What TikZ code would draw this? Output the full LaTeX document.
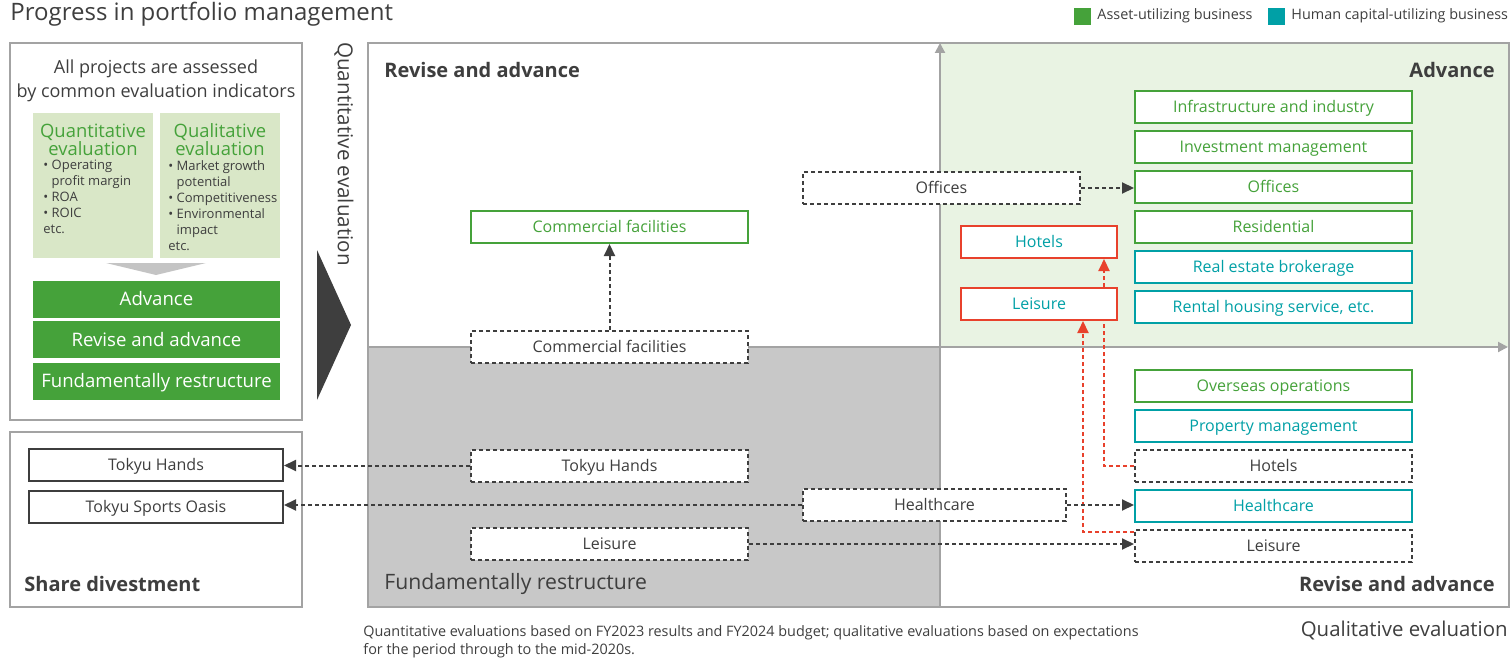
\documentclass[tikz,border=0pt]{standalone}
\usepackage{fontspec}
\setmainfont{Open Sans}
\usetikzlibrary{arrows.meta}
\definecolor{assetgreen}{HTML}{45A23A}
\definecolor{humanteal}{HTML}{00A0A6}
\definecolor{shiftred}{HTML}{E8412C}
\definecolor{inkgray}{HTML}{3E3E3E}
\definecolor{axisgray}{HTML}{A3A3A3}
\definecolor{lowgray}{HTML}{C8C8C8}
\definecolor{highgreen}{HTML}{E9F3E3}
\definecolor{indgreen}{HTML}{D9E7C7}
\definecolor{chevgray}{HTML}{C4C4C4}
\newcommand{\fsz}[2]{\fontsize{#1}{#2}\selectfont}
\tikzset{
  biz/.style={draw, line width=1pt, fill=white, minimum width=138.5pt,
    minimum height=16pt, inner sep=0pt, text height=7pt, text depth=1.3pt,
    font=\fsz{8}{9}},
  asset/.style={biz, draw=assetgreen, text=assetgreen},
  human/.style={biz, draw=humanteal, text=humanteal},
  moved/.style={biz, draw=inkgray, dash pattern=on 2pt off 1.5pt, text=inkgray},
  flagged/.style={biz, draw=shiftred, text=humanteal, minimum width=78pt},
  sold/.style={biz, draw=inkgray, text=inkgray, minimum width=127pt},
  flow/.style={draw=inkgray, line width=1pt, dash pattern=on 2pt off 1.5pt,
    -{Triangle[length=6pt,width=5.5pt]}},
  redflow/.style={flow, draw=shiftred},
  verdict/.style={fill=assetgreen, text=white, minimum width=123.5pt,
    minimum height=18.5pt, inner sep=0pt, text height=8pt, text depth=1.4pt,
    font=\fsz{9.3}{10}},
  quad/.style={font=\fsz{10}{12}\bfseries, text=inkgray},
}

\begin{document}
\begin{tikzpicture}[x=0.5pt,y=-0.5pt]
  \useasboundingbox (0,0) rectangle (1510,658);
  % heading and legend
  \node[anchor=west, inner sep=0pt, text=inkgray, font=\fsz{12}{14}] (title) at (10,14) {Progress in portfolio management};
  \fill[assetgreen] (1074,8) rectangle (1091,25);
  \node[anchor=west, inner sep=0pt, text=inkgray, font=\fsz{7.2}{9}] (keyasset) at (1097,16) {Asset-utilizing business};
  \fill[humanteal] (1268,8) rectangle (1285,25);
  \node[anchor=west, inner sep=0pt, text=inkgray, font=\fsz{7.2}{9}] (keyhuman) at (1291,16) {Human capital-utilizing business};

  % evaluation panel
  \draw[axisgray, line width=0.6pt] (10,43) rectangle (302,420);
  \node[align=center, text=inkgray, font=\fsz{9}{12}] (common) at (156,81) {All projects are assessed\\by common evaluation indicators};
  \fill[indgreen] (33,113) rectangle (153,258);
  \fill[indgreen] (160,113) rectangle (280,258);
  \node[align=center, inner sep=0pt, text=assetgreen, font=\fsz{9.2}{9}] (quanthead) at (93,140) {Quantitative\\evaluation};
  \node[align=center, inner sep=0pt, text=assetgreen, font=\fsz{9.2}{9}] (qualhead) at (220,140) {Qualitative\\evaluation};
  \node[anchor=north west, align=left, inner sep=0pt, text=inkgray, font=\fsz{6.5}{8}] (quantlist) at (43,160)
    {\textbullet\ Operating\\\phantom{\textbullet\ }profit margin\\\textbullet\ ROA\\\textbullet\ ROIC\\etc.};
  \node[anchor=north west, align=left, inner sep=0pt, text=inkgray, font=\fsz{6.5}{8}] (quallist) at (168,160)
    {\textbullet\ Market growth\\\phantom{\textbullet\ }potential\\\textbullet\ Competitiveness\\\textbullet\ Environmental\\\phantom{\textbullet\ }impact\\etc.};
  \fill[chevgray] (106,263) -- (206,263) -- (156,275) -- cycle;
  \node[verdict] (vadvance) at (156.5,299) {Advance};
  \node[verdict] (vrevise) at (156.5,339.5) {Revise and advance};
  \node[verdict] (vrestructure) at (156.5,381) {Fundamentally restructure};
  \fill[inkgray] (317,250) -- (351,325) -- (317,400) -- cycle;
  \node[rotate=-90, text=inkgray, font=\fsz{10.3}{12}] (ylabel) at (344,154) {Quantitative evaluation};

  % divestment panel
  \draw[axisgray, line width=0.6pt] (10,432) rectangle (302,607);
  \node[sold] (hands) at (156,465) {Tokyu Hands};
  \node[sold] (oasis) at (156,507) {Tokyu Sports Oasis};
  \node[quad, anchor=west, inner sep=0pt] (divest) at (24,584) {Share divestment};

  % quadrants
  \fill[highgreen] (940,43) rectangle (1509,347);
  \fill[lowgray] (368,347) rectangle (940,607);
  \draw[axisgray, line width=0.8pt] (368,43) rectangle (1509,607);
  \draw[axisgray, line width=1pt, -{Triangle[length=5pt,width=5pt]}] (940,607) -- (940,43);
  \draw[axisgray, line width=1pt, -{Triangle[length=5pt,width=5pt]}] (368,347) -- (1508,347);
  \node[quad, anchor=west, inner sep=0pt] (qtl) at (384,70) {Revise and advance};
  \node[quad, anchor=east, inner sep=0pt] (qtr) at (1495,70) {Advance};
  \node[anchor=west, inner sep=0pt, text=inkgray, font=\fsz{10.6}{12}] (qbl) at (384,584) {Fundamentally restructure};
  \node[quad, anchor=east, inner sep=0pt] (qbr) at (1495,584) {Revise and advance};
  \node[anchor=east, inner sep=0pt, text=inkgray, font=\fsz{10.2}{12}] (xlabel) at (1508,630) {Qualitative evaluation};

  % businesses
  \node[asset] (infra) at (1273.5,107) {Infrastructure and industry};
  \node[asset] (invest) at (1273.5,147) {Investment management};
  \node[asset] (offices) at (1273.5,187) {Offices};
  \node[asset] (resid) at (1273.5,227) {Residential};
  \node[human] (broker) at (1273.5,267) {Real estate brokerage};
  \node[human] (rental) at (1273.5,307) {Rental housing service, etc.};
  \node[asset] (overseas) at (1273.5,386) {Overseas operations};
  \node[human] (propmgmt) at (1273.5,426) {Property management};
  \node[moved] (hotelsold) at (1273.5,466) {Hotels};
  \node[human] (health) at (1273.5,506) {Healthcare};
  \node[moved] (leisureold) at (1273.5,546) {Leisure};

  \node[moved] (officesold) at (941.5,188) {Offices};
  \node[asset] (commercial) at (609.5,227) {Commercial facilities};
  \node[moved] (commercialold) at (609.5,347) {Commercial facilities};
  \node[moved] (handsold) at (609.5,465.5) {Tokyu Hands};
  \node[moved, minimum width=131.5pt] (healthold) at (934.5,505) {Healthcare};
  \node[moved] (leisuremid) at (609.5,544) {Leisure};

  % red moves
  \coordinate (hotelsx) at (1104,0);
  \draw[redflow, -] (hotelsold.west) -| (hotelsx |- 0,320);
  \node[flagged] (leisurenew) at (1039,304) {Leisure};
  \node[flagged] (hotelsnew) at (1039,242) {Hotels};
  \draw[redflow] (hotelsx |- leisurenew.north) -- (hotelsx |- hotelsnew.south);
  \draw[redflow] ([yshift=-1.5pt]leisureold.north west) -| ([xshift=-17.5pt]leisurenew.south east);

  % moves
  \draw[flow] (officesold.east) -- (officesold.east -| offices.west);
  \draw[flow] (commercialold) -- (commercial);
  \draw[flow] (handsold.west) -- (handsold.west -| hands.east);
  \draw[flow] (healthold.west) -- (healthold.west -| oasis.east);
  \draw[flow] (healthold.east) -- (healthold.east -| health.west);
  \draw[flow] (leisuremid.east) -- (leisuremid.east -| leisureold.west);

  \node[anchor=north west, align=left, inner sep=0pt, text=inkgray, font=\fsz{7.2}{9}] (note) at (363,625)
    {Quantitative evaluations based on FY2023 results and FY2024 budget; qualitative evaluations based on expectations\\for the period through to the mid-2020s.};
\end{tikzpicture}
\end{document}
